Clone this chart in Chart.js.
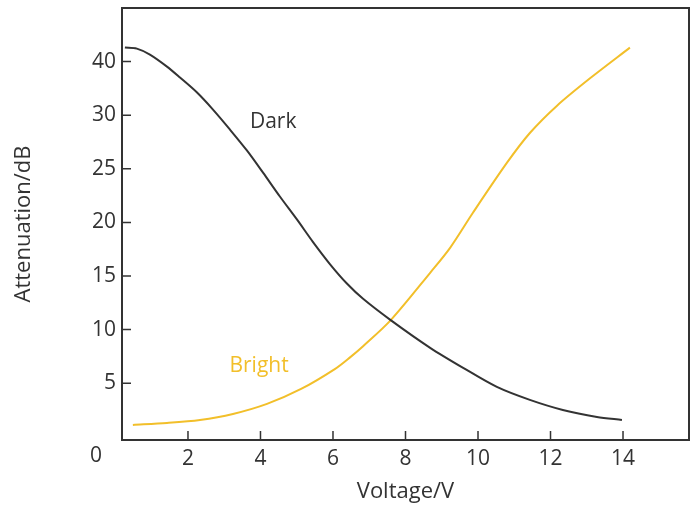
<!DOCTYPE html>
<html>
<head>
<meta charset="utf-8">
<script src="https://cdn.jsdelivr.net/npm/chart.js@4"></script>
<style>
html,body{margin:0;padding:0;background:#fff;}
#wrap{width:691px;height:511px;position:relative;}
</style>
</head>
<body>
<div id="wrap"><canvas id="c" width="691" height="511"></canvas></div>
<script>
const darkVoltage = [0.26,0.59,0.95,1.42,1.78,2.25,2.69,3.16,3.63,4.07,4.54,5.01,5.45,5.92,6.39,6.83,7.6,8.68,9.59,10.52,11.43,12.34,13.28,13.97];
const darkAttenuation = [36.31,36.21,35.65,34.53,33.51,32.11,30.52,28.65,26.69,24.64,22.39,20.25,18.16,16.09,14.27,12.87,10.86,8.3,6.43,4.65,3.44,2.5,1.85,1.57];
const brightVoltage = [0.48,1.42,2.33,3.24,4.18,5.12,6.06,6.47,6.83,7.6,8.68,9.23,9.86,10.8,11.43,12.18,13.09,14.19];
const brightAttenuation = [1.11,1.29,1.57,2.13,3.07,4.46,6.34,7.41,8.45,10.91,15.3,17.63,20.9,25.57,28.34,30.89,33.44,36.3];
const xTickValues = [2,4,6,8,10,12,14];
const yTickValues = [5,10,15,20,25,30,35];
const yTickLabels = ['5','10','15','20','25','30','40'];
const seriesNames = ['Dark','Bright'];
const cornerLabel = '0';

const FONT = "'Open Sans', sans-serif";
const INK = '#333333';
const YELLOW = '#f2bf2a';

const framePlugin = {
  id: 'frame',
  afterDraw(chart) {
    const {ctx, chartArea: a, scales} = chart;
    const xs = scales.x, ys = scales.y;
    ctx.save();
    ctx.strokeStyle = INK;
    ctx.lineWidth = 2;
    ctx.strokeRect(a.left, a.top, a.right - a.left, a.bottom - a.top);
    ctx.lineWidth = 1.5;
    ctx.beginPath();
    yTickValues.forEach(v => {
      const y = ys.getPixelForValue(v);
      ctx.moveTo(a.left, y); ctx.lineTo(a.left + 9, y);
    });
    xTickValues.forEach(v => {
      const x = xs.getPixelForValue(v);
      ctx.moveTo(x, a.bottom); ctx.lineTo(x, a.bottom - 9);
    });
    ctx.stroke();
    ctx.fillStyle = INK;
    ctx.font = "21px " + FONT;
    ctx.textAlign = 'center';
    ctx.textBaseline = 'middle';
    ctx.fillText(cornerLabel, a.left - 26, a.bottom + 16);
    ctx.fillStyle = INK;
    ctx.fillText(seriesNames[0], xs.getPixelForValue(4.35), ys.getPixelForValue(29.4));
    ctx.fillStyle = YELLOW;
    ctx.fillText(seriesNames[1], xs.getPixelForValue(3.96), ys.getPixelForValue(6.6));
    ctx.restore();
  }
};

new Chart(document.getElementById('c'), {
  type: 'scatter',
  data: {
    datasets: [
      {
        label: seriesNames[0],
        data: darkVoltage.map((v, i) => ({x: v, y: darkAttenuation[i]})),
        showLine: true, borderColor: INK, borderWidth: 2, pointRadius: 0,
        tension: 0.3
      },
      {
        label: seriesNames[1],
        data: brightVoltage.map((v, i) => ({x: v, y: brightAttenuation[i]})),
        showLine: true, borderColor: YELLOW, borderWidth: 2, pointRadius: 0,
        tension: 0.3
      }
    ]
  },
  options: {
    responsive: false,
    animation: false,
    events: [],
    layout: {padding: {top: 8, right: 2, left: 0, bottom: 0}},
    plugins: {legend: {display: false}, tooltip: {enabled: false}},
    scales: {
      x: {
        type: 'linear', min: 0.18, max: 15.82,
        afterBuildTicks(s) { s.ticks = xTickValues.map(v => ({value: v})); },
        afterFit(s) { s.height = 71; },
        grid: {display: false, drawTicks: false},
        border: {display: false},
        ticks: {color: INK, font: {family: FONT, size: 21}, padding: 6, maxRotation: 0},
        title: {display: true, text: 'Voltage/V', color: INK, font: {family: FONT, size: 22}, padding: {top: 4, bottom: 6}}
      },
      y: {
        type: 'linear', min: -0.3, max: 40,
        afterBuildTicks(s) { s.ticks = yTickValues.map(v => ({value: v})); },
        afterFit(s) { s.width = 122; s.paddingTop = 0; s.paddingBottom = 0; },
        grid: {display: false, drawTicks: false},
        border: {display: false},
        ticks: {color: INK, font: {family: FONT, size: 21}, padding: 6,
          callback: (v) => { const i = yTickValues.indexOf(v); return i >= 0 ? yTickLabels[i] : ''; }},
        title: {display: true, text: 'Attenuation/dB', color: INK, font: {family: FONT, size: 22}, padding: {top: 11, bottom: 0}}
      }
    }
  },
  plugins: [framePlugin]
});
</script>
</body>
</html>
